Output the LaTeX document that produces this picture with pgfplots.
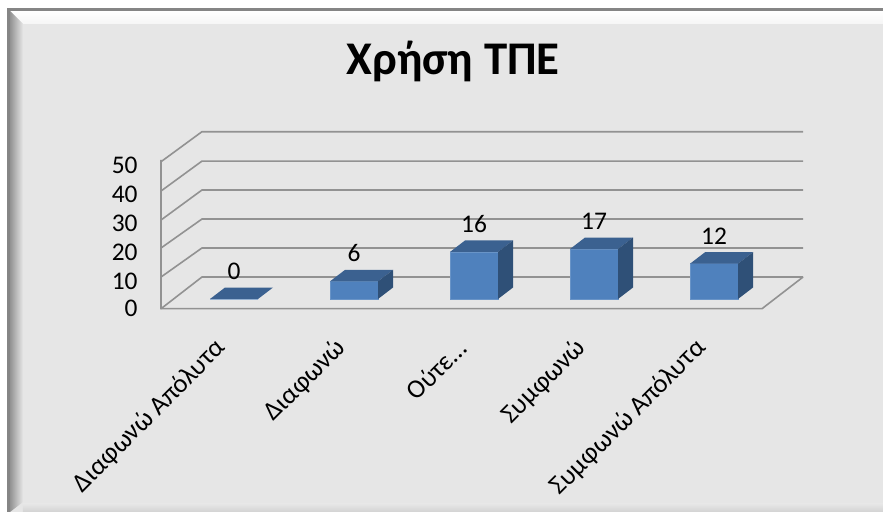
\documentclass[border=0pt]{standalone}
\usepackage{pgfplots}
\pgfplotsset{compat=1.18}
\usepackage{fontspec}
\setmainfont{Carlito}
\definecolor{bgc}{HTML}{E6E6E6}
\definecolor{frontc}{HTML}{4F81BD}
\definecolor{topc}{HTML}{3B6190}
\definecolor{sidec}{HTML}{2F5077}
\definecolor{gridc}{HTML}{929292}
\definecolor{borderc}{HTML}{858585}
\pgfdeclarelayer{background}
\pgfsetlayers{background,main}
\newcommand{\yl}[1]{#1\kern20bp}
\begin{document}
\begin{tikzpicture}
\begin{axis}[
  x=120bp, y=2.94bp,
  xmin=-0.608, xmax=4.742, ymin=-3.3, ymax=47.3,
  clip=false,
  axis line style={draw=none},
  tick style={draw=none},
  major tick length=0pt,
  /pgf/number format/assume math mode=true,
  every tick label/.append style={font=\fontsize{25.5}{30}\selectfont},
  ytick={-3.06,6.12,15.99,25.85,35.7,45.6},
  yticklabels={\yl{0},\yl{10},\yl{20},\yl{30},\yl{40},\yl{50}},
  xtick={0,1,2,3,4},
  xticklabels={Διαφωνώ Απόλυτα, Διαφωνώ, Ούτε…, Συμφωνώ, Συμφωνώ Απόλυτα},
  xticklabel style={xshift=-10bp, yshift=-33bp, rotate=45, anchor=east, font=\fontsize{26.5}{30}\selectfont},
  gl/.style={draw=gridc, line width=1.6bp, forget plot, mark=none},
]
\coordinate (O) at (axis cs:0,0);
% back wall and side wall gridlines
\addplot[gl] coordinates {(-0.608,-3.3) (-0.267,7.48) (4.742,7.48)};
\addplot[gl] coordinates {(-0.608,7.48) (-0.267,17.35) (4.742,17.35)};
\addplot[gl] coordinates {(-0.608,17.35) (-0.267,27.2) (4.742,27.2)};
\addplot[gl] coordinates {(-0.608,26.87) (-0.267,37.07) (4.742,37.07)};
\addplot[gl] coordinates {(-0.608,36.73) (-0.267,46.9) (4.742,46.9)};
\addplot[gl] coordinates {(-0.608,46.7) (-0.267,56.9) (4.742,56.9)};
% front vertical axis and floor
\addplot[gl] coordinates {(-0.608,47.3) (-0.608,-3.3) (4.4,-3.3) (4.742,7.48)};
% front faces of the bars
\addplot[ybar, bar width=48bp, fill=frontc, draw=frontc!85!white, line width=0.6bp,
  nodes near coords,
  every node near coord/.append style={font=\fontsize{25.5}{30}\selectfont, text=black, yshift=16bp}]
  coordinates {(0,0) (1,6) (2,16) (3,17) (4,12)};
% top faces
\addplot[fill=topc, draw=none, forget plot] coordinates {(-0.2,0) (0.2,0) (0.325,3.9) (-0.075,3.9)} -- cycle;
\addplot[fill=topc, draw=none, forget plot] coordinates {(0.8,6) (1.2,6) (1.325,9.9) (0.925,9.9)} -- cycle;
\addplot[fill=topc, draw=none, forget plot] coordinates {(1.8,16) (2.2,16) (2.325,19.9) (1.925,19.9)} -- cycle;
\addplot[fill=topc, draw=none, forget plot] coordinates {(2.8,17) (3.2,17) (3.325,20.9) (2.925,20.9)} -- cycle;
\addplot[fill=topc, draw=none, forget plot] coordinates {(3.8,12) (4.2,12) (4.325,15.9) (3.925,15.9)} -- cycle;
% side faces
\addplot[fill=sidec, draw=none, forget plot] coordinates {(1.2,0) (1.325,3.9) (1.325,9.9) (1.2,6)} -- cycle;
\addplot[fill=sidec, draw=none, forget plot] coordinates {(2.2,0) (2.325,3.9) (2.325,19.9) (2.2,16)} -- cycle;
\addplot[fill=sidec, draw=none, forget plot] coordinates {(3.2,0) (3.325,3.9) (3.325,20.9) (3.2,17)} -- cycle;
\addplot[fill=sidec, draw=none, forget plot] coordinates {(4.2,0) (4.325,3.9) (4.325,15.9) (4.2,12)} -- cycle;
\end{axis}
\begin{scope}[shift={(O)}, x=1bp, y=1bp, xshift=-234bp, yshift=-213bp]
\begin{pgfonlayer}{background}
\fill[white] (0,0) rectangle (883,512);
\fill[bgc] (8,0) rectangle (883,503);
\shade[top color=white, bottom color=white!60!bgc] (10,501) -- (883,501) -- (883,488) -- (23,488) -- cycle;
\shade[left color=gray!85, right color=bgc] (10,0) -- (10,501) -- (23,488) -- (23,10) -- (10,0) -- cycle;
\shade[top color=bgc, bottom color=gray!35] (23,0) -- (23,8) -- (883,8) -- (883,0) -- cycle;
\fill[borderc] (8,501) rectangle (883,503.5);
\fill[borderc] (7.5,0) rectangle (10,503.5);
\end{pgfonlayer}
\node[font=\fontsize{47}{50}\selectfont\bfseries, anchor=base, inner sep=0pt] at (453,437) {Χρήση ΤΠΕ};
\pgfresetboundingbox
\useasboundingbox (0,0) rectangle (883,512);
\end{scope}
\end{tikzpicture}
\end{document}
